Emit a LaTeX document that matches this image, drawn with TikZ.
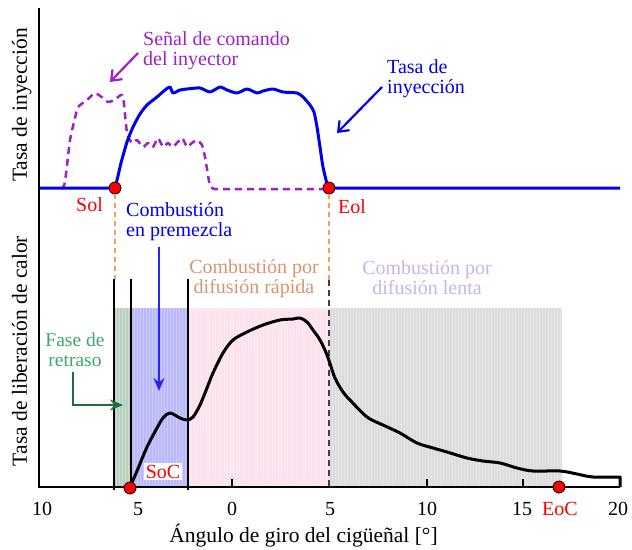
\documentclass[tikz,border=0pt]{standalone}
\usepackage{fontspec}
\setmainfont{Liberation Serif}
\usetikzlibrary{arrows.meta}
\usetikzlibrary{positioning}

\definecolor{violeta}{RGB}{160,32,200}
\definecolor{azul}{RGB}{0,0,240}
\definecolor{rojo}{RGB}{255,0,0}
\definecolor{naranja}{RGB}{240,160,100}
\definecolor{canela}{RGB}{215,150,110}
\definecolor{lila}{RGB}{200,180,232}
\definecolor{verdetxt}{RGB}{60,168,110}
\definecolor{verdeflecha}{RGB}{30,110,60}
\definecolor{fondoverde}{RGB}{184,208,192}
\definecolor{fondoazul}{RGB}{184,184,250}
\definecolor{fondorosa}{RGB}{252,226,238}
\definecolor{fondogris}{RGB}{220,220,220}

\begin{document}
\begin{tikzpicture}[x=1pt,y=-1pt,
  lbl/.style={inner sep=0pt,font=\fontsize{20}{20}\selectfont},
  ejelbl/.style={inner sep=0pt,font=\fontsize{21.5}{22}\selectfont},
  punto/.style={circle,draw=black,fill=rojo,minimum size=12pt,inner sep=0pt,line width=0.8pt},
  flechav/.style={line width=2.2pt,-{Straight Barb[length=9pt,width=14pt]}},
  flechal/.style={line width=2.2pt,-{Stealth[length=13pt,width=11pt]}}]
\useasboundingbox (0,0) rectangle (632,549);

% zonas de combustion
\fill[fondoverde] (114,308) rectangle (131,487);
\fill[fondoazul] (131,308) rectangle (188,487);
\fill[fondorosa] (188,308) rectangle (329,487);
\fill[fondogris] (329,308) rectangle (562,487);
\foreach \x in {116,119,...,560}
  \draw[white,opacity=0.3,line width=0.6pt] (\x,308) -- (\x,487);

% ejes
\draw[line width=2pt] (39,8) -- (39,487) -- (620,487);
\foreach \x in {232,427,523}
  \draw[line width=2pt] (\x,487) -- (\x,479);
\node[lbl,anchor=base] at (42,515) {10};
\node[lbl,anchor=base] at (138,515) {5};
\node[lbl,anchor=base] at (232,515) {0};
\node[lbl,anchor=base] at (330,515) {5};
\node[lbl,anchor=base] at (427,515) {10};
\node[lbl,anchor=base] at (522,515) {15};
\node[lbl,anchor=base] at (618,515) {20};
\node[ejelbl,anchor=base] (ejex) at (303.5,542) {Ángulo de giro del cigüeñal [°]};
\node[ejelbl,anchor=base,rotate=90] (ejey1) at (27,105) {Tasa de inyección};
\node[ejelbl,anchor=base,rotate=90] (ejey2) at (27,351) {Tasa de liberación de calor};

% limites de fases
\draw[line width=2pt] (114,279) -- (114,490);
\draw[line width=2pt] (131,279) -- (131,487);
\draw[line width=2pt] (188,279) -- (188,490);
\draw[black!75,line width=2pt,dash pattern=on 6pt off 4pt] (329,280) -- (329,487);

% curvas
\draw[violeta,line width=2.5pt,dash pattern=on 7pt off 5pt,line join=round]
  plot[smooth,tension=0.3] coordinates {(62,189) (65,182) (70,140) (75,118) (78,107)
  (87,100) (95,93) (103,98) (108,102) (115,100) (118,97) (123,96) (127,133) (132,143)
  (137,140) (143,147) (148,143) (153,147) (158,138) (163,147) (168,143) (173,147)
  (182,138) (187,147) (192,143) (197,140) (202,145) (205,157) (210,186) (215,189)}
  -- (329,189);
\draw[azul,line width=3pt,line join=round] (40,188) --
  plot[smooth,tension=0.4] coordinates {(115,188) (118,176) (121,163) (127,142)
  (133,127) (140,114) (147,105) (157,97) (165,90) (170,87) (173,93) (180,90) (187,89)
  (200,88) (210,92) (220,87) (227,90) (237,93) (247,89) (257,93) (263,91) (273,89)
  (283,92) (297,93) (303,97) (310,105) (314,112) (317,127) (320,147) (323,167) (328,188)}
  -- (620,188);
\draw[line width=3pt,line join=round]
  plot[smooth,tension=0.55] coordinates {(130,487) (137,471) (147,447) (157,428)
  (163,418) (170,413) (180,418) (187,420) (193,417) (200,405) (207,388) (213,373)
  (223,353) (233,340) (247,332) (263,325) (280,320) (293,319) (300,318) (307,322)
  (313,330) (320,340) (327,355) (335,378) (343,392) (350,400) (367,417) (383,425)
  (400,433) (417,443) (433,448) (447,452) (467,458) (483,461) (500,463) (517,468)
  (533,471) (560,471) (577,474) (593,477) (620,477)} -- (620,487);

% puntos
\node[punto] (soi) at (115,188) {};
\node[punto] (eoi) at (329,188) {};
\node[punto] (soc) at (130,488) {};
\node[punto] (eoc) at (559,487) {};
\coordinate (soibajo) at (115,279);
\coordinate (eoibajo) at (329,280);
\draw[naranja,line width=2pt,dash pattern=on 5pt off 4pt] (soi) -- (soibajo);
\draw[naranja,line width=2pt,dash pattern=on 5pt off 4pt] (eoi) -- (eoibajo);

% etiquetas
\node[lbl,rojo,anchor=base] (soilbl) at (89.5,211.5) {Sol};
\node[lbl,rojo,anchor=base] (eoilbl) at (352,213) {Eol};
\node[lbl,rojo,anchor=base,fill=white,inner sep=1.5pt] (soclbl) at (163,478) {SoC};
\node[lbl,rojo,anchor=base] (eoclbl) at (560,515) {EoC};
\node[lbl,violeta,align=left,anchor=west] (senal) at (143,51) {Señal de comando\\del inyector};
\node[lbl,azul,align=left,anchor=west] (tasa) at (387,79) {Tasa de\\inyección};
\node[lbl,azul,align=left,anchor=west] (premez) at (126,222) {Combustión\\en premezcla};
\node[lbl,canela,align=center] (rapida) at (254,279) {Combustión por\\difusión rápida};
\node[lbl,lila,align=center] (lenta) at (427,278) {Combustión por\\difusión lenta};
\node[lbl,verdetxt,align=center,font=\fontsize{19.5}{19.5}\selectfont] (fase) at (75,350) {Fase de\\retraso};

% flechas
\coordinate (sen1) at (138,53);
\coordinate (sen2) at (110,82);
\draw[violeta,flechav] (sen1) -- (sen2);
\coordinate (tas1) at (382,87);
\coordinate (tas2) at (337,133);
\draw[azul,flechav] (tas1) -- (tas2);
\coordinate (pre1) at (159,247);
\coordinate (pre2) at (159,391);
\draw[azul!85!white,flechal] (pre1) -- (pre2);
\coordinate (fas1) at (73,372);
\coordinate (fas2) at (123,405);
\draw[verdeflecha,flechal] (fas1) |- (fas2);

\end{tikzpicture}
\end{document}
